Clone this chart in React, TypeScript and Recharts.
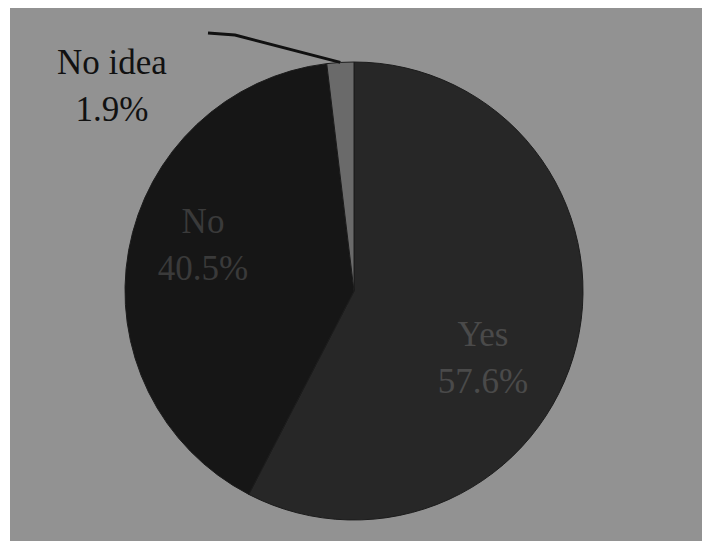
import { Pie, PieChart } from "recharts";

const categories = ["Yes", "No", "No idea"];
const shares = [57.6, 40.5, 1.9];
const sliceColors = ["#272727", "#161616", "#6a6a6a"];

const data = categories.map((name, i) => ({ name, value: shares[i], fill: sliceColors[i] }));

// where each label sits, relative to the pie centre (first line baseline)
const labelSpots: Record<string, { dx: number; dy: number; color: string }> = {
  Yes: { dx: 129, dy: 55, color: "#4a4a4a" },
  No: { dx: -151, dy: -58, color: "#3a3a3a" },
  "No idea": { dx: -242, dy: -217, color: "#111" },
};

const RAD = Math.PI / 180;
const font = "Liberation Serif, DejaVu Serif, serif";

function renderLabel(props: any) {
  const { cx, cy, midAngle, outerRadius, name, value, index } = props;
  const spot = labelSpots[name];
  const x = cx + spot.dx;
  const y = cy + spot.dy;
  const leader =
    name === "No idea"
      ? [
          [cx + outerRadius * Math.cos(-midAngle * RAD), cy + outerRadius * Math.sin(-midAngle * RAD)],
          [cx - 119, cy - 256],
          [cx - 146, cy - 258],
        ]
      : null;
  return (
    <g key={`lbl-${index}`}>
      {leader && (
        <polyline
          points={leader.map((p) => p.join(",")).join(" ")}
          fill="none"
          stroke="#111"
          strokeWidth={3}
        />
      )}
      <text x={x} y={y} textAnchor="middle" fill={spot.color} style={{ fontFamily: font, fontSize: 35 }}>
        <tspan x={x} dy={0}>{name}</tspan>
        <tspan x={x} dy={47}>{`${value}%`}</tspan>
      </text>
    </g>
  );
}

export default function App() {
  return (
    <div style={{ position: "absolute", left: 0, top: 0, width: 702, height: 541, background: "#fff" }}>
      <div
        style={{ position: "absolute", left: 10, top: 8, width: 692, height: 533, background: "#929292" }}
      />
      <div style={{ position: "absolute", left: 0, top: 0 }}>
        <PieChart width={702} height={541}>
          <Pie
            data={data}
            dataKey="value"
            nameKey="name"
            cx={349}
            cy={286}
            outerRadius={229}
            startAngle={90}
            endAngle={-270}
            stroke="#1c1c1c"
            strokeWidth={1}
            label={renderLabel}
            labelLine={false}
            isAnimationActive={false}
          />
        </PieChart>
      </div>
    </div>
  );
}
